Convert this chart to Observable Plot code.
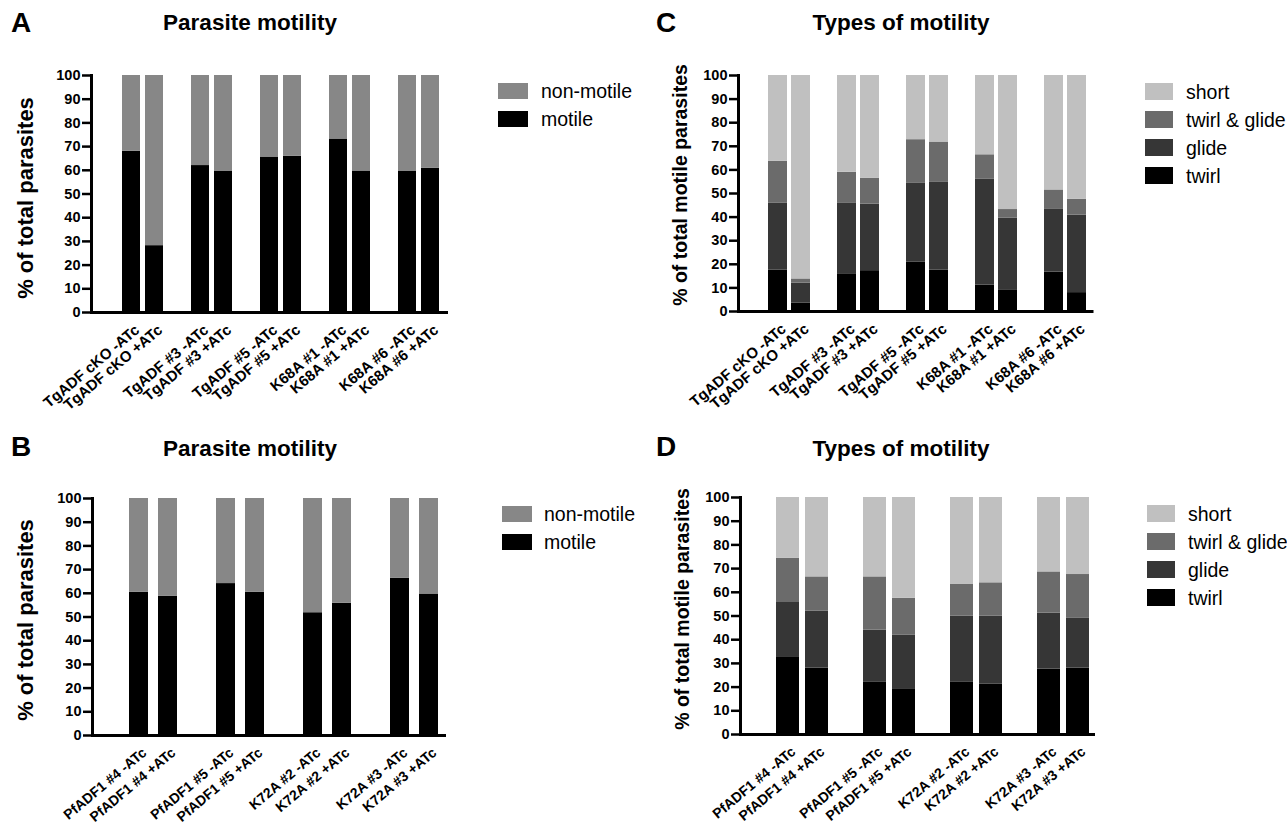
<!DOCTYPE html>
<html><head><meta charset="utf-8">
<script src="https://cdn.jsdelivr.net/npm/d3@7"></script>
<script src="https://cdn.jsdelivr.net/npm/@observablehq/plot@0.6"></script>
<style>
html,body{margin:0;padding:0;background:#fff;}
body{width:1287px;height:826px;position:relative;overflow:hidden;font-family:"Liberation Sans",Arial,Helvetica,sans-serif;color:#000;}
.abs{position:absolute;white-space:nowrap;line-height:1;}
.letter{font-weight:bold;font-size:28px;transform:translate(-50%,-50%);}
.title{font-weight:bold;font-size:22.5px;transform:translate(-50%,-50%);}
.ytitle{font-weight:bold;transform:translate(-50%,-50%) rotate(-90deg);}
.sw{position:absolute;}
.lt{position:absolute;white-space:nowrap;line-height:1;font-size:19.5px;}
</style></head>
<body>
<script>
// ---------- data ----------
const yTicks = [0,10,20,30,40,50,60,70,80,90,100];

const catsA = ["TgADF cKO -ATc","TgADF cKO +ATc","TgADF #3 -ATc","TgADF #3 +ATc","TgADF #5 -ATc","TgADF #5 +ATc","K68A #1 -ATc","K68A #1 +ATc","K68A #6 -ATc","K68A #6 +ATc"];
const motileA    = [68.0, 28.2, 62.0, 59.5, 65.6, 65.9, 73.2, 59.7, 59.5, 60.9];
const nonMotileA = [32.0, 71.8, 38.0, 40.5, 34.4, 34.1, 26.8, 40.3, 40.5, 39.1];

const catsB = ["PfADF1 #4 -ATc","PfADF1 #4 +ATc","PfADF1 #5 -ATc","PfADF1 #5 +ATc","K72A #2 -ATc","K72A #2 +ATc","K72A #3 -ATc","K72A #3 +ATc"];
const motileB    = [60.4, 58.8, 64.1, 60.4, 51.8, 55.8, 66.3, 59.7];
const nonMotileB = [39.6, 41.2, 35.9, 39.6, 48.2, 44.2, 33.7, 40.3];

const twirlC      = [17.5, 3.5, 15.7, 17.3, 21.0, 17.5, 11.2, 9.2, 16.7, 8.0];
const glideC      = [28.5, 8.5, 30.1, 28.2, 33.5, 37.2, 44.8, 30.3, 26.8, 32.8];
const twirlGlideC = [17.6, 1.8, 13.2, 11.0, 18.3, 17.1, 10.4, 3.7, 8.0, 6.7];
const shortC      = [36.4, 86.2, 41.0, 43.5, 27.2, 28.2, 33.6, 56.8, 48.5, 52.5];

const twirlD      = [32.5, 28.0, 22.0, 19.0, 22.0, 21.2, 27.6, 28.0];
const glideD      = [23.2, 24.0, 22.0, 23.0, 28.0, 28.8, 23.6, 21.0];
const twirlGlideD = [18.6, 14.5, 22.5, 15.5, 13.3, 14.0, 17.4, 18.5];
const shortD      = [25.7, 33.5, 33.5, 42.5, 36.7, 36.0, 31.4, 32.5];

const motilityNames = ["motile", "non-motile"];            // bottom -> top
const motilityColors = ["#000000", "#878787"];
const typeNames = ["twirl", "glide", "twirl & glide", "short"]; // bottom -> top
const typeColors = ["#000000", "#363636", "#6b6b6b", "#c0c0c0"];

const FONT = "'Liberation Sans', Arial, Helvetica, sans-serif";

// ---------- helpers ----------
function addText(cls, txt, x, y, size) {
  const d = document.createElement("div");
  d.className = "abs " + cls;
  d.textContent = txt;
  d.style.left = x + "px";
  d.style.top = y + "px";
  if (size) d.style.fontSize = size + "px";
  document.body.appendChild(d);
}

function legend(names, colors, x, y0, step, swW, swH, textX) {
  const n = names.length;
  for (let k = 0; k < n; k++) {
    const i = n - 1 - k;
    const top = y0 + k * step;
    const s = document.createElement("div");
    s.className = "sw";
    s.style.cssText = `left:${x}px;top:${top}px;width:${swW}px;height:${swH}px;background:${colors[i]};`;
    document.body.appendChild(s);
    const t = document.createElement("div");
    t.className = "lt";
    t.textContent = names[i];
    t.style.left = textX + "px";
    t.style.top = (top + swH - 0.8465 * 19.5) + "px";
    document.body.appendChild(t);
  }
}

function panel(o) {
  const slots = [];
  for (let g = 0; g < o.cats.length / 2; g++) slots.push("_" + g, o.cats[2 * g], o.cats[2 * g + 1]);
  const rows = [];
  o.series.forEach((vals, s) => vals.forEach((v, i) => rows.push({cat: o.cats[i], type: o.names[s], value: v})));
  const chart = Plot.plot({
    width: o.w, height: o.h,
    marginLeft: o.ml, marginRight: o.mr, marginTop: o.mt, marginBottom: o.mb,
    style: {fontFamily: FONT, fontWeight: "bold", fontSize: "14.5px", color: "#000", background: "transparent", overflow: "visible"},
    x: {domain: slots, paddingInner: o.pad, paddingOuter: o.pad / 2, align: 0.5},
    y: {domain: [0, 100]},
    color: {domain: o.names, range: o.colors},
    marks: [
      Plot.barY(rows, Plot.stackY({x: "cat", y: "value", fill: "type", order: o.names})),
      Plot.ruleY([0], {strokeWidth: 3}),
      Plot.frame({anchor: "left", strokeWidth: 3}),
      Plot.axisY({ticks: yTicks, tickSize: 9, tickPadding: 2, strokeWidth: 2.5, fontSize: 14.5, label: null}),
      Plot.axisX({ticks: o.cats, tickSize: 0, tickPadding: 11, tickRotate: -40, fontSize: o.xfs,
                  textAnchor: "end", lineAnchor: "top", dx: 2, label: null})
    ]
  });
  chart.style.position = "absolute";
  chart.style.left = o.left + "px";
  chart.style.top = o.top + "px";
  document.body.appendChild(chart);
}

// ---------- panels ----------
panel({cats: catsA, series: [motileA, nonMotileA], names: motilityNames, colors: motilityColors,
       left: 0, top: 0, w: 640, h: 420, ml: 91, mr: 192, mt: 75, mb: 108, pad: 0.2, xfs: 15});
panel({cats: catsA, series: [twirlC, glideC, twirlGlideC, shortC], names: typeNames, colors: typeColors,
       left: 640, top: 0, w: 640, h: 420, ml: 98, mr: 186.5, mt: 75, mb: 109, pad: 0.19, xfs: 15});
panel({cats: catsB, series: [motileB, nonMotileB], names: motilityNames, colors: motilityColors,
       left: 0, top: 420, w: 640, h: 406, ml: 92, mr: 194, mt: 78, mb: 91, pad: 0.35, xfs: 14});
panel({cats: catsB, series: [twirlD, glideD, twirlGlideD, shortD], names: typeNames, colors: typeColors,
       left: 640, top: 420, w: 640, h: 406, ml: 100, mr: 185, mt: 77, mb: 92, pad: 0.22, xfs: 14});

// ---------- titles ----------
addText("letter", "A", 21, 23);
addText("letter", "C", 666, 23);
addText("letter", "B", 21, 447);
addText("letter", "D", 666, 447);
addText("title", "Parasite motility", 250, 23);
addText("title", "Types of motility", 901, 23);
addText("title", "Parasite motility", 250, 449);
addText("title", "Types of motility", 901, 449);
addText("ytitle", "% of total parasites", 26, 198, 22);
addText("ytitle", "% of total motile parasites", 681, 185, 19.5);
addText("ytitle", "% of total parasites", 26, 620, 22);
addText("ytitle", "% of total motile parasites", 683, 609, 19.5);

// ---------- legends ----------
legend(motilityNames, motilityColors, 498, 83, 28, 30, 16, 541);
legend(typeNames, typeColors, 1145, 83, 28, 28, 17, 1186);
legend(motilityNames, motilityColors, 502, 506, 28, 30, 16, 544);
legend(typeNames, typeColors, 1147, 505, 28, 28, 17, 1188);
</script>
</body></html>
